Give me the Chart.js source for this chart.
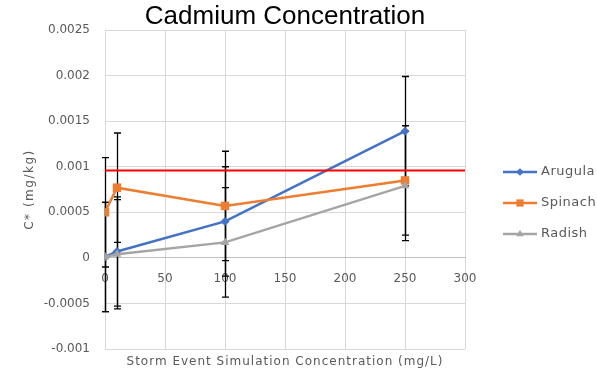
<!DOCTYPE html>
<html>
<head>
<meta charset="utf-8">
<script src="https://cdn.jsdelivr.net/npm/chart.js@4"></script>
<style>
  html, body { margin: 0; padding: 0; background: #fff; }
</style>
</head>
<body>
<canvas id="myChart" width="597" height="374"></canvas>
<script>
const fontFamily = "'DejaVu Sans', sans-serif";
const textColor = "#595959";
const gridColor = "#d9d9d9";

// data
const concentrations = [0, 10, 100, 250];
const arugula = [0.00001, 0.00007, 0.0004, 0.00139];
const spinach = [0.0005, 0.00077, 0.00057, 0.00085];
const radish = [0.00001, 0.00004, 0.00017, 0.00079];
const arugulaErr = [0.0006, 0.0006, 0.0006, 0.0006];
const spinachErr = [0.0006, 0.0006, 0.0006, 0.0006];
const radishErr = [0.0006, 0.0006, 0.0006, 0.0006];
const limitValue = 0.00096;
const limitRange = [0, 300];
const xTicks = [0, 50, 100, 150, 200, 250, 300];
const yTicks = [-0.001, -0.0005, 0, 0.0005, 0.001, 0.0015, 0.002, 0.0025];
const yTickLabels = ["-0.001", "-0.0005", "0", "0.0005", "0.001", "0.0015", "0.002", "0.0025"];
const xTitle = "Storm Event Simulation Concentration (mg/L)";
const yTitle = "C* (mg/kg)";

const toPoints = (vals) => vals.map((v, i) => ({ x: concentrations[i], y: v }));

const series = [
    { label: "Arugula", data: arugula, errors: arugulaErr, color: "#4472c4", style: "rectRot", radius: 4.5, order: 3 },
    { label: "Spinach", data: spinach, errors: spinachErr, color: "#ed7d31", style: "rect", radius: 6, order: 2 },
    { label: "Radish", data: radish, errors: radishErr, color: "#a5a5a5", style: "triangle", radius: 5, order: 1 },
];

// black error bars, drawn under the markers
const errorBars = {
    id: 'errorBars',
    beforeDatasetsDraw(chart) {
        const { ctx, scales: { x, y } } = chart;
        ctx.save();
        ctx.strokeStyle = "#000";
        ctx.lineWidth = 1.3;
        series.forEach(s => {
            s.data.forEach((v, i) => {
                const px = Math.round(x.getPixelForValue(concentrations[i])) + 0.5;
                const top = y.getPixelForValue(v + s.errors[i]);
                const bot = y.getPixelForValue(v - s.errors[i]);
                ctx.beginPath();
                ctx.moveTo(px, top);
                ctx.lineTo(px, bot);
                ctx.moveTo(px - 3.5, top);
                ctx.lineTo(px + 3.5, top);
                ctx.moveTo(px - 3.5, bot);
                ctx.lineTo(px + 3.5, bot);
                ctx.stroke();
            });
        });
        ctx.restore();
    }
};

// axis titles drawn by hand so they can get the wide excel letter spacing
const axisTitles = {
    id: 'axisTitles',
    afterDraw(chart) {
        const { ctx, chartArea } = chart;
        ctx.save();
        ctx.fillStyle = textColor;
        ctx.font = "12px " + fontFamily;
        ctx.textAlign = "center";
        ctx.textBaseline = "middle";
        ctx.letterSpacing = "1px";
        ctx.fillText(xTitle, (chartArea.left + chartArea.right) / 2, 362);
        ctx.translate(30, (chartArea.top + chartArea.bottom) / 2);
        ctx.rotate(-Math.PI / 2);
        ctx.letterSpacing = "1.5px";
        ctx.fillText(yTitle, 0, 0);
        ctx.restore();
    }
};

function drawMarker(ctx, style, cx, cy, r) {
    ctx.beginPath();
    if (style === "rectRot") {
        ctx.moveTo(cx, cy - r);
        ctx.lineTo(cx + r, cy);
        ctx.lineTo(cx, cy + r);
        ctx.lineTo(cx - r, cy);
    } else if (style === "rect") {
        const h = r * Math.SQRT1_2;
        ctx.rect(cx - h, cy - h, h * 2, h * 2);
    } else {
        ctx.moveTo(cx, cy - r);
        ctx.lineTo(cx + r * 0.87, cy + r * 0.5);
        ctx.lineTo(cx - r * 0.87, cy + r * 0.5);
    }
    ctx.closePath();
    ctx.fill();
}

// excel-like legend on the right: line + marker + name
const sideLegend = {
    id: 'sideLegend',
    afterDraw(chart) {
        const ctx = chart.ctx;
        const rows = [172, 203, 234];
        ctx.save();
        ctx.font = "13px " + fontFamily;
        ctx.letterSpacing = "0.5px";
        ctx.textBaseline = "middle";
        ctx.textAlign = "left";
        series.forEach((s, i) => {
            const yy = rows[i];
            ctx.strokeStyle = s.color;
            ctx.fillStyle = s.color;
            ctx.lineWidth = 2.5;
            ctx.beginPath();
            ctx.moveTo(503, yy);
            ctx.lineTo(537, yy);
            ctx.stroke();
            drawMarker(ctx, s.style, 520, yy, s.radius * 0.85);
            ctx.fillStyle = textColor;
            ctx.fillText(s.label, 541, yy);
        });
        ctx.restore();
    }
};

const datasets = series.map(s => ({
    label: s.label,
    data: toPoints(s.data),
    borderColor: s.color,
    backgroundColor: s.color,
    borderWidth: 2.5,
    pointStyle: s.style,
    pointRadius: s.radius,
    pointBorderWidth: 0,
    pointBackgroundColor: s.color,
    tension: 0,
    order: s.order,
}));
datasets.push({
    label: "limit",
    data: limitRange.map(x => ({ x: x, y: limitValue })),
    borderColor: "#ff0000",
    borderWidth: 2,
    pointRadius: 0,
    order: 0,
});

new Chart("myChart", {
    type: "line",
    data: { datasets: datasets },
    options: {
        responsive: false,
        animation: false,
        layout: { padding: { left: 0, right: 132, top: 0, bottom: 25 } },
        plugins: {
            legend: { display: false },
            tooltip: { enabled: false },
            title: {
                display: true,
                text: "Cadmium Concentration",
                fullSize: false,
                color: "#000",
                font: { family: "'Liberation Sans', Arial, sans-serif", size: 26, weight: "normal", lineHeight: 1.04 },
                padding: { top: 3, bottom: 0 },
            },
        },
        scales: {
            x: {
                type: "linear",
                position: { y: 0 },
                min: 0,
                max: 300,
                afterBuildTicks: (scale) => { scale.ticks = xTicks.map(v => ({ value: v })); },
                grid: { color: gridColor, drawTicks: false },
                border: { color: "#bfbfbf", width: 1 },
                ticks: {
                    color: textColor,
                    padding: 14,
                    maxRotation: 0,
                    font: { family: fontFamily, size: 12 },
                },
            },
            y: {
                min: -0.001,
                max: 0.0025,
                afterBuildTicks: (scale) => { scale.ticks = yTicks.map(v => ({ value: v })); },
                afterFit: (scale) => { scale.width = 105; },
                grid: { color: gridColor, drawTicks: false },
                border: { color: gridColor },
                ticks: {
                    color: textColor,
                    padding: 15,
                    font: { family: fontFamily, size: 12 },
                    callback: (v, i) => yTickLabels[i],
                },
            },
        },
    },
    plugins: [errorBars, axisTitles, sideLegend]
});
</script>
</body>
</html>
